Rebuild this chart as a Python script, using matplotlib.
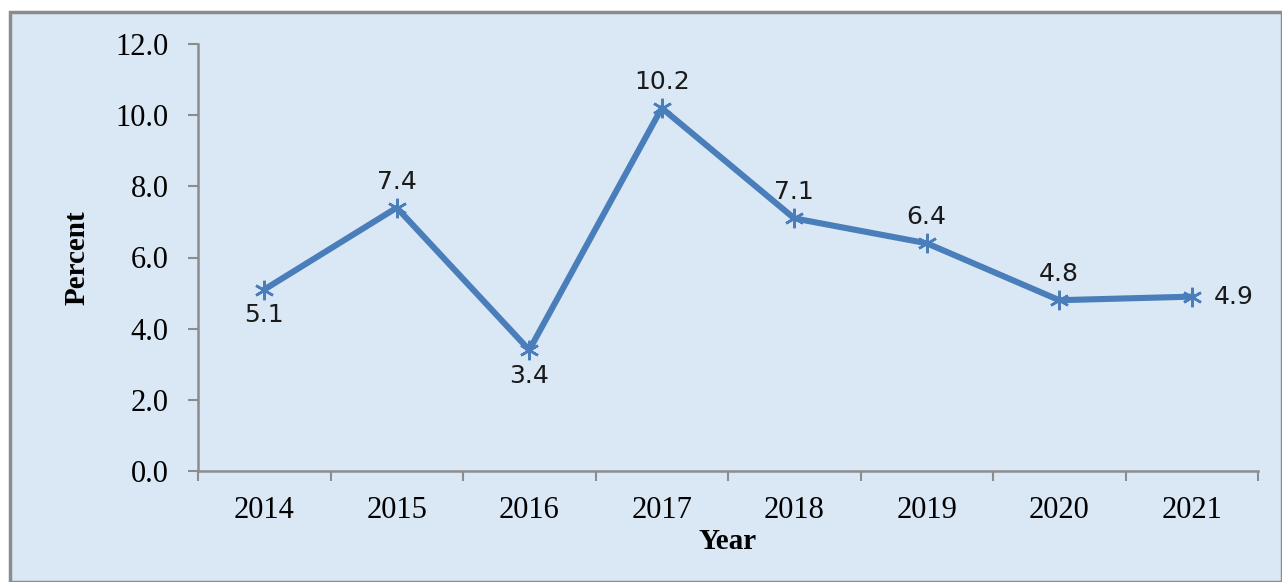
import matplotlib
matplotlib.use("Agg")
import matplotlib.pyplot as plt
from matplotlib.patches import Rectangle

years = ["2014", "2015", "2016", "2017", "2018", "2019", "2020", "2021"]
growth = [5.1, 7.4, 3.4, 10.2, 7.1, 6.4, 4.8, 4.9]
label_pos = ["below", "above", "below", "above", "above", "above", "above", "right"]
yticks = [0, 2, 4, 6, 8, 10, 12]

bg = "#dae8f5"
line_color = "#4a7ebb"
serif = "Liberation Serif"

fig = plt.figure(figsize=(12.82, 5.82), dpi=100)
fig.patch.set_facecolor("white")
# chart area box with grey border, kept behind the axes
fig.patches.append(Rectangle((10 / 1282, 0), 1 - 10 / 1282, 1 - 12 / 582,
                             transform=fig.transFigure, facecolor=bg,
                             edgecolor="#8c8c8c", linewidth=2.5, zorder=-10))

ax = fig.add_axes([198 / 1282, 1 - 471 / 582, 1060 / 1282, 427 / 582])
ax.set_facecolor("none")

x = list(range(len(years)))
ax.plot(x, growth, color=line_color, linewidth=4.4, marker=(6, 2, 0),
        markersize=14, markeredgewidth=1.8, markeredgecolor=line_color,
        clip_on=False, zorder=3)

for xi, v, pos in zip(x, growth, label_pos):
    if pos == "above":
        ax.annotate(f"{v:.1f}", (xi, v), xytext=(0, 10), textcoords="offset points",
                    ha="center", va="bottom", fontsize=18, color="#1a1a1a")
    elif pos == "below":
        ax.annotate(f"{v:.1f}", (xi, v), xytext=(0, -10), textcoords="offset points",
                    ha="center", va="top", fontsize=18, color="#1a1a1a")
    else:
        ax.annotate(f"{v:.1f}", (xi, v), xytext=(16, 0), textcoords="offset points",
                    ha="left", va="center", fontsize=18, color="#1a1a1a")

ax.set_xlim(-0.5, len(years) - 0.5)
ax.set_ylim(0, 12)
ax.set_yticks(yticks)
ax.set_yticklabels([f"{t:.1f}" for t in yticks], fontfamily=serif, fontsize=22)
ax.set_xticks(x)
ax.set_xticklabels(years, fontfamily=serif, fontsize=22)
ax.set_xticks([i - 0.5 for i in range(len(years) + 1)], minor=True)
ax.tick_params(axis="x", which="major", length=0, pad=18)
ax.tick_params(axis="x", which="minor", length=7, width=1.5, color="#8c8c8c")
ax.tick_params(axis="y", length=7, width=1.5, color="#8c8c8c", pad=14)

for s in ["top", "right"]:
    ax.spines[s].set_visible(False)
for s in ["left", "bottom"]:
    ax.spines[s].set_color("#8c8c8c")
    ax.spines[s].set_linewidth(1.8)

ax.set_ylabel("Percent", fontfamily=serif, fontweight="bold",
              fontsize=21, labelpad=18)
ax.set_xlabel("Year", fontfamily=serif, fontweight="bold",
              fontsize=21, labelpad=2)

fig.savefig("out.png", dpi=100, facecolor=fig.get_facecolor())
